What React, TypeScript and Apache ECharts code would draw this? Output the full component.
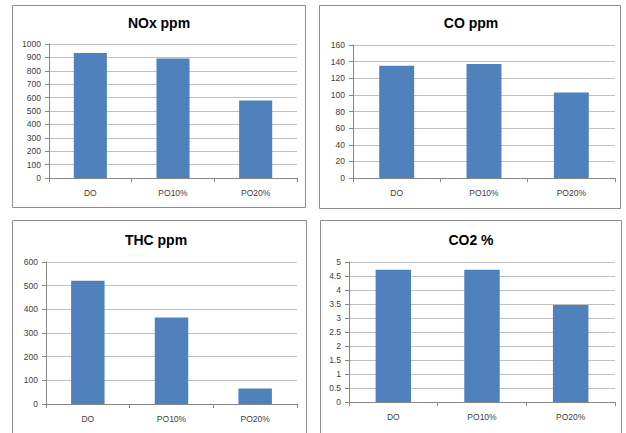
import React, { useEffect, useRef } from "react";
import * as echarts from "echarts";

const categories = ["DO", "PO10%", "PO20%"];
const titles = ["NOx ppm", "CO ppm", "THC ppm", "CO2 %"];
const noxValues = [933, 892, 578];
const coValues = [135, 137, 103];
const thcValues = [521, 366, 66];
const co2Values = [4.72, 4.72, 3.46];
const yMax = [1000, 160, 600, 5];
const yInterval = [100, 20, 100, 0.5];

const seriesData = [noxValues, coValues, thcValues, co2Values];

// layout: [left, right, top, bottom] in pixels for each grid
const grids = [
  { left: 49, right: 626 - 297, top: 44, bottom: 433 - 178 },
  { left: 353, right: 626 - 615, top: 45, bottom: 433 - 178 },
  { left: 46, right: 626 - 297, top: 262, bottom: 433 - 404 },
  { left: 349, right: 626 - 615, top: 262, bottom: 433 - 402 },
];
const titlePos = [
  { x: 159, y: 16 },
  { x: 471, y: 16 },
  { x: 156, y: 233 },
  { x: 471, y: 233 },
];
const panels = [
  { x: 12.5, y: 5.5, w: 293, h: 202 },
  { x: 319.5, y: 5.5, w: 301, h: 203 },
  { x: 12.5, y: 220.5, w: 294, h: 230 },
  { x: 320.5, y: 220.5, w: 301, h: 230 },
];

const FONT = "Liberation Sans";

export default function App() {
  const ref = useRef<HTMLDivElement>(null);
  useEffect(() => {
    document.body.style.margin = "0";
    const chart = echarts.init(ref.current!, undefined, { renderer: "svg" });
    const option: any = {
      animation: false,
      backgroundColor: "#ffffff",
      graphic: panels.map((p) => ({
        type: "rect",
        shape: { x: p.x, y: p.y, width: p.w, height: p.h },
        style: { fill: "none", stroke: "#8c8c8c", lineWidth: 1 },
        z: 0,
        silent: true,
      })),
      title: titles.map((t, i) => ({
        text: t,
        left: titlePos[i].x,
        top: titlePos[i].y,
        textAlign: "center",
        padding: 0,
        textStyle: { fontFamily: FONT, fontWeight: "bold", fontSize: 14, color: "#000000" },
      })),
      grid: grids.map((g) => ({ ...g, containLabel: false })),
      xAxis: grids.map((_, i) => ({
        type: "category",
        gridIndex: i,
        data: categories,
        boundaryGap: true,
        axisLine: { lineStyle: { color: "#868686", width: 1 } },
        axisTick: { show: true, alignWithLabel: false, length: 4, lineStyle: { color: "#868686" } },
        axisLabel: { fontFamily: FONT, fontSize: 8.5, color: "#404040", margin: 10 },
        splitLine: { show: false },
      })),
      yAxis: grids.map((_, i) => ({
        type: "value",
        gridIndex: i,
        min: 0,
        max: yMax[i],
        interval: yInterval[i],
        axisLine: { show: true, lineStyle: { color: "#868686", width: 1 } },
        axisTick: { show: true, length: 4, lineStyle: { color: "#868686" } },
        axisLabel: {
          fontFamily: FONT,
          fontSize: 8.5,
          color: "#404040",
          margin: 8,
          formatter: (v: number) => String(v),
        },
        splitLine: { show: true, lineStyle: { color: "#c0c0c0", width: 1 } },
      })),
      series: seriesData.map((d, i) => ({
        type: "bar",
        xAxisIndex: i,
        yAxisIndex: i,
        data: d,
        barWidth: "40%",
        itemStyle: { color: "#4f81bd" },
      })),
    };
    chart.setOption(option);
    return () => chart.dispose();
  }, []);
  return <div ref={ref} style={{ width: 626, height: 433 }} />;
}
